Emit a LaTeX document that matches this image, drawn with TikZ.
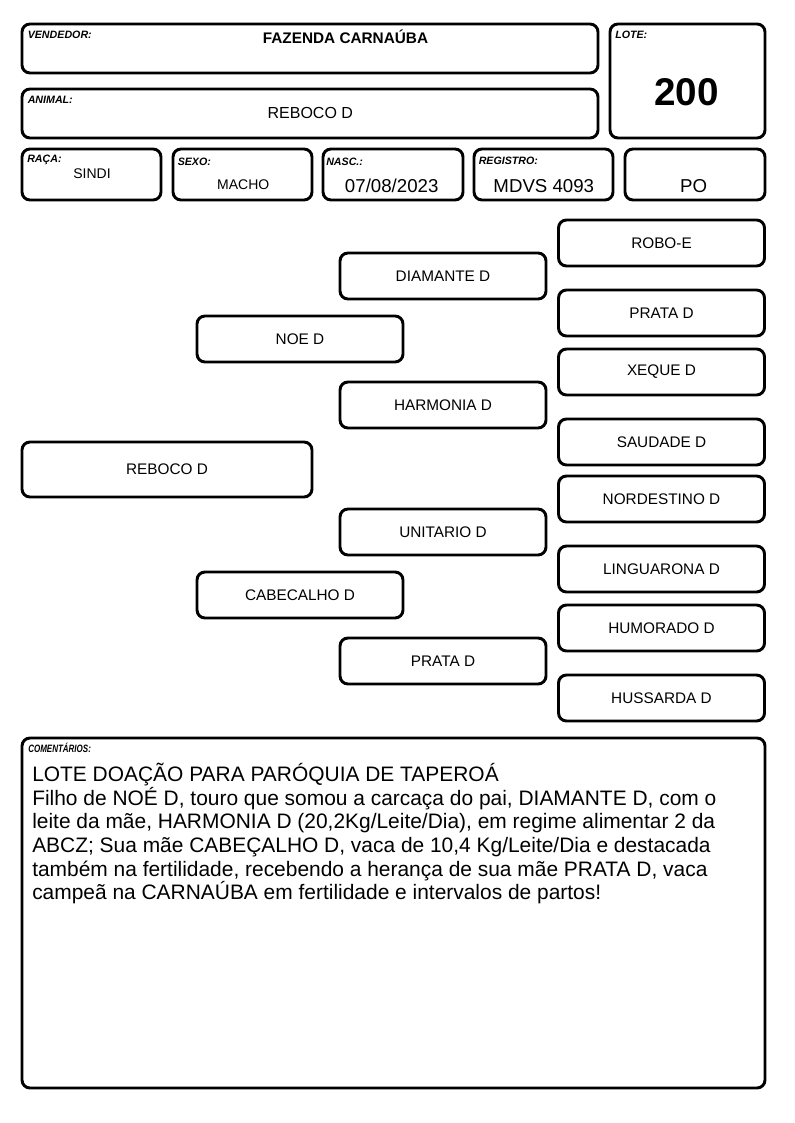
\documentclass[tikz,border=0pt]{standalone}
\usepackage{fontspec}
\setmainfont{Liberation Sans}
\usepackage{tikz}
\usetikzlibrary{positioning}
\newcommand{\semsalto}{\lineskiplimit=-20pt\relax\lineskip=0pt\relax}

\begin{document}
\begin{tikzpicture}[x=0.75pt,y=-0.75pt,
    caixa/.style={draw, line width=2.2pt, rounded corners=6pt, inner sep=0pt},
    tam/.style 2 args={minimum width=#1*0.75pt, minimum height=#2*0.75pt},
    ped/.style={caixa, tam={206}{46}, font=\fontsize{11.5}{13}\selectfont},
    rotulo/.style={anchor=base west, inner sep=0pt, font=\fontsize{8}{9}\selectfont\bfseries\itshape},
    valor/.style={anchor=base, inner sep=0pt}]
  \fill[white] (0,0) rectangle (794,1123);
  \useasboundingbox (0,0) rectangle (794,1123);

  % cabecalho
  \node[caixa, tam={576}{49}] (vendedor) at (310,48.5) {};
  \node[caixa, tam={155}{114}] (lote) at (687.5,81) {};
  \node[caixa, tam={576}{49}] (animal) at (310,113.5) {};
  \node[caixa, tam={139}{51}] (raca) at (91.5,174.5) {};
  \node[caixa, tam={139}{51}] (sexo) at (242.5,174.5) {};
  \node[caixa, tam={140}{51}] (nasc) at (393,174.5) {};
  \node[caixa, tam={139}{51}] (registro) at (543.5,174.5) {};
  \node[caixa, tam={140}{51}] (categ) at (695,174.5) {};

  \node[rotulo] (lvendedor) at (27.5,39) {VENDEDOR:};
  \node[rotulo] (llote) at (615,39) {LOTE:};
  \node[rotulo] (lanimal) at (27.5,103.3) {ANIMAL:};
  \node[rotulo] (lraca) at (27,163) {RAÇA:};
  \node[rotulo] (lsexo) at (177.5,165.7) {SEXO:};
  \node[rotulo] (lnasc) at (326,165.7) {NASC.:};
  \node[rotulo] (lregistro) at (478.5,165) {REGISTRO:};

  \node[valor, font=\fontsize{11.5}{13}\selectfont\bfseries] (tvendedor) at (345.5,43.3) {FAZENDA CARNAÚBA};
  \node[valor, font=\fontsize{29}{32}\selectfont\bfseries] (tlote) at (686.7,105.7) {200};
  \node[valor, font=\fontsize{12}{14}\selectfont] (tanimal) at (310.3,119) {REBOCO D};
  \node[valor, font=\fontsize{10.5}{12}\selectfont] (traca) at (92,178.3) {SINDI};
  \node[valor, font=\fontsize{10.5}{12}\selectfont] (tsexo) at (243.3,189.3) {MACHO};
  \node[valor, font=\fontsize{14}{16}\selectfont] (tnasc) at (391.7,192.7) {07/08/2023};
  \node[valor, font=\fontsize{14}{16}\selectfont] (tregistro) at (543.8,192.3) {MDVS 4093};
  \node[valor, font=\fontsize{14}{16}\selectfont] (tcateg) at (693.7,192.3) {PO};

  % genealogia
  \node[caixa, tam={290}{55}, font=\fontsize{11.5}{13}\selectfont] (reboco) at (167,469.5) {REBOCO D};
  \node[ped] (noe) at (300,339) {NOE D};
  \node[ped] (cabecalho) at (300,595) {CABECALHO D};
  \node[ped] (diamante) at (443,276) {DIAMANTE D};
  \node[ped] (harmonia) at (443,405) {HARMONIA D};
  \node[ped] (unitario) at (443,532) {UNITARIO D};
  \node[ped] (prata) at (443,661) {PRATA D};
  \node[ped] (robo) at (661.5,243) {ROBO-E};
  \node[ped] (prataa) at (661.5,313) {PRATA D};
  \node[ped] (xeque) at (661.5,372) {XEQUE D};
  \node[ped] (saudade) at (661.5,442) {SAUDADE D};
  \node[ped] (nordestino) at (661.5,499) {NORDESTINO D};
  \node[ped] (linguarona) at (661.5,569) {LINGUARONA D};
  \node[ped] (humorado) at (661.5,628) {HUMORADO D};
  \node[ped] (hussarda) at (661.5,698) {HUSSARDA D};

  % comentarios
  \node[caixa, tam={743}{350}] (coment) at (393.5,913) {};
  \node[rotulo] (lcoment) at (28,752.3) {\scalebox{0.75}[1]{COMENTÁRIOS:}};
  \node[anchor=north west, inner sep=0pt, align=left,
        font=\fontsize{15.7}{17.75}\selectfont\semsalto] (tcoment) at (32,763)
    {LOTE DOAÇÃO PARA PARÓQUIA DE TAPEROÁ\\
     Filho de NOÉ D, touro que somou a carcaça do pai, DIAMANTE D, com o\\
     leite da mãe, HARMONIA D (20,2Kg/Leite/Dia), em regime alimentar 2 da\\
     ABCZ; Sua mãe CABEÇALHO D, vaca de 10,4 Kg/Leite/Dia e destacada\\
     também na fertilidade, recebendo a herança de sua mãe PRATA D, vaca\\
     campeã na CARNAÚBA em fertilidade e intervalos de partos!};
\end{tikzpicture}
\end{document}
